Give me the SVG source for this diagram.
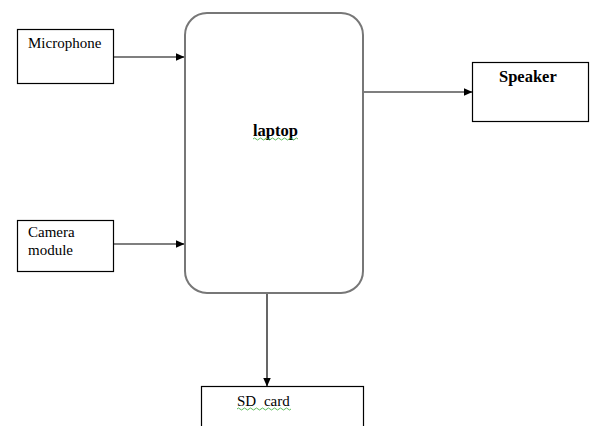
<svg xmlns="http://www.w3.org/2000/svg" width="590" height="426" viewBox="0 0 590 426">
<defs>
<style>
.box{fill:#fff;stroke:#000;stroke-width:1.2}
.big{fill:#fff;stroke:#777;stroke-width:2}
.t{font-family:"Liberation Serif","Times New Roman",serif;font-size:15px;fill:#000}
.b{font-weight:bold;font-size:16.5px}
.c{stroke:#000;stroke-width:1.2;fill:none}
.w{stroke:#3a3;stroke-width:0.8;fill:none}
</style>
<marker id="ah" markerWidth="9" markerHeight="8" refX="8.5" refY="4" orient="auto" markerUnits="userSpaceOnUse">
<path d="M0,0 L9,4 L0,8 Z" fill="#000"/>
</marker>
</defs>
<rect width="590" height="426" fill="#fff"/>
<g id="microphone">
<rect class="box" x="17.5" y="29.5" width="96" height="54"/>
<text class="t" x="28" y="48">Microphone</text>
</g>
<g id="camera">
<rect class="box" x="17.5" y="220.5" width="96" height="51"/>
<text class="t" x="28" y="237">Camera</text>
<text class="t" x="28" y="255">module</text>
</g>
<g id="laptop">
<rect class="big" x="185" y="13" width="178" height="280" rx="22" ry="22"/>
<text class="t b" x="253" y="136">laptop</text>
<path class="w" d="M253,139 q1.5,-2 3,0 t3,0 t3,0 t3,0 t3,0 t3,0 t3,0 t3,0 t3,0 t3,0 t3,0 t3,0 t3,0 t3,0 t3,0"/>
</g>
<g id="speaker">
<rect class="box" x="472.5" y="62.5" width="116" height="59"/>
<text class="t b" x="499" y="82">Speaker</text>
</g>
<g id="sdcard">
<rect class="box" x="201.5" y="386.5" width="162" height="50"/>
<text class="t" x="237" y="406" word-spacing="4">SD card</text>
<path class="w" d="M237,409 q1.5,-2 3,0 t3,0 t3,0 t3,0 t3,0 t3,0 t3,0 t3,0 t3,0 t3,0 t3,0 t3,0 t3,0 t3,0 t3,0 t3,0 t3,0 t3,0"/>
</g>
<g id="connectors">
<line class="c" x1="113.5" y1="57" x2="184" y2="57" marker-end="url(#ah)"/>
<line class="c" x1="113.5" y1="244" x2="184" y2="244" marker-end="url(#ah)"/>
<line class="c" x1="364" y1="92" x2="472" y2="92" marker-end="url(#ah)"/>
<line class="c" x1="267" y1="294" x2="267" y2="386" marker-end="url(#ah)"/>
</g>
</svg>
